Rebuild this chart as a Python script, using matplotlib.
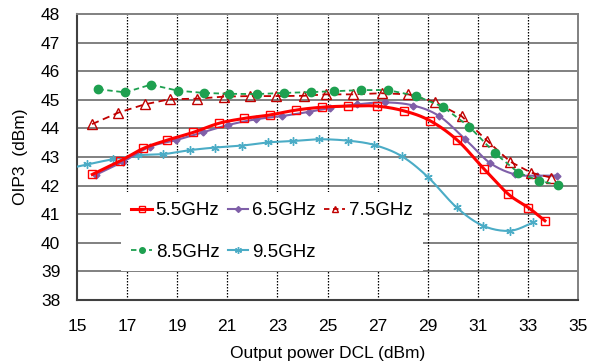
import numpy as np
import matplotlib
matplotlib.use("Agg")
import matplotlib.pyplot as plt
from matplotlib.lines import Line2D

plt.rcParams['font.family'] = ['Liberation Sans', 'DejaVu Sans']

# ---- data ----
x55 = [15.61, 16.72, 17.65, 18.60, 19.64, 20.67, 21.68, 22.70, 23.74, 24.77,
       25.83, 26.96, 28.06, 29.09, 30.18, 31.25, 32.22, 33.02, 33.68]
y55 = [42.39, 42.86, 43.30, 43.59, 43.86, 44.18, 44.35, 44.47, 44.64, 44.74,
       44.78, 44.78, 44.61, 44.27, 43.59, 42.58, 41.70, 41.23, 40.77]

x65 = [15.76, 16.85, 17.91, 18.95, 20.02, 21.04, 22.15, 23.17, 24.27, 25.10,
       26.17, 27.30, 28.43, 29.46, 30.50, 31.49, 32.49, 33.35, 34.15]
y65 = [42.38, 42.84, 43.36, 43.59, 43.86, 44.12, 44.32, 44.43, 44.58, 44.72,
       44.84, 44.91, 44.80, 44.43, 43.62, 42.79, 42.39, 42.35, 42.35]

x75 = [15.60, 16.65, 17.70, 18.70, 19.80, 20.85, 21.90, 22.95, 24.05, 24.95,
       26.03, 27.16, 28.23, 29.29, 30.35, 31.37, 32.29, 33.13, 33.92]
y75 = [44.15, 44.55, 44.84, 45.02, 45.04, 45.11, 45.13, 45.13, 45.14, 45.19,
       45.19, 45.23, 45.19, 44.92, 44.43, 43.57, 42.84, 42.45, 42.28]

x85 = [15.85, 16.92, 17.95, 19.02, 20.07, 21.08, 22.17, 23.26, 24.34, 25.27,
       26.34, 27.40, 28.53, 29.60, 30.66, 31.69, 32.62, 33.45, 34.19]
y85 = [45.37, 45.26, 45.53, 45.32, 45.24, 45.21, 45.20, 45.24, 45.27, 45.30,
       45.34, 45.34, 45.14, 44.76, 44.06, 43.13, 42.45, 42.17, 42.02]

x95 = [14.40, 15.41, 16.42, 17.45, 18.45, 19.51, 20.51, 21.60, 22.64, 23.64,
       24.68, 25.83, 26.87, 27.96, 29.02, 30.15, 31.20, 32.29, 33.22]
y95 = [42.55, 42.74, 42.92, 43.06, 43.10, 43.24, 43.33, 43.40, 43.51, 43.56,
       43.62, 43.57, 43.42, 43.03, 42.29, 41.24, 40.60, 40.42, 40.72]

labels = ["5.5GHz", "6.5GHz", "7.5GHz", "8.5GHz", "9.5GHz"]
xticks = [15, 17, 19, 21, 23, 25, 27, 29, 31, 33, 35]
yticks = [38, 39, 40, 41, 42, 43, 44, 45, 46, 47, 48]


def smooth(x, y, n=20):
    """Excel-like smoothed line: cubic Bezier through points."""
    x = np.asarray(x, float)
    y = np.asarray(y, float)
    P = np.column_stack([x, y])
    out = [P[0]]
    m = len(P)
    for i in range(m - 1):
        p0 = P[i - 1] if i > 0 else P[i]
        p1 = P[i]
        p2 = P[i + 1]
        p3 = P[i + 2] if i + 2 < m else P[i + 1]
        c1 = p1 + (p2 - p0) / 6.0
        c2 = p2 - (p3 - p1) / 6.0
        t = np.linspace(0, 1, n)[1:, None]
        seg = ((1 - t) ** 3) * p1 + 3 * ((1 - t) ** 2) * t * c1 + 3 * (1 - t) * t ** 2 * c2 + t ** 3 * p2
        out.extend(seg)
    out = np.array(out)
    return out[:, 0], out[:, 1]


fig = plt.figure(figsize=(5.89, 3.64), dpi=100)
ax = fig.add_axes([77 / 589, 1 - 300 / 364, 501 / 589, 286 / 364])

c55 = '#FF0000'
c65 = '#7F5FA8'
c75 = '#C00000'
c85 = '#1EA050'
c95 = '#4BACC6'

# 5.5 GHz
sx, sy = smooth(x55, y55)
ax.plot(sx, sy, color=c55, lw=2.2, zorder=5)
ax.plot(x55, y55, ls='none', marker='s', ms=6, mfc='none', mec=c55, mew=1.0, zorder=6)
# 6.5 GHz
sx, sy = smooth(x65, y65)
ax.plot(sx, sy, color=c65, lw=1.5, zorder=4)
ax.plot(x65, y65, ls='none', marker='D', ms=3.5, mfc=c65, mec=c65, zorder=4)
# 7.5 GHz
ax.plot(x75, y75, color=c75, lw=1.3, ls=(0, (4, 2.5)), marker='^', ms=7.5, mfc='none',
        mec=c75, mew=1.0, zorder=4)
# 8.5 GHz
ax.plot(x85, y85, color=c85, lw=1.3, ls=(0, (3, 2)), marker='o', ms=6, mfc=c85, mec=c85, zorder=4)
# 9.5 GHz
sx, sy = smooth(x95, y95)
ax.plot(sx, sy, color=c95, lw=1.5, zorder=3)
ax.plot(x95, y95, ls='none', marker=(6, 2, 0), ms=6, mec=c95, mew=1.0, zorder=3)

ax.set_xlim(15, 35)
ax.set_ylim(38, 48)
ax.set_xticks(xticks)
ax.set_yticks(yticks)
ax.tick_params(length=0, labelsize=12.5)
ax.tick_params(axis='y', pad=12)
ax.tick_params(axis='x', pad=14)

for y in yticks[1:-1]:
    ax.axhline(y, color='#808080', lw=1.4, zorder=1)
for x in xticks[1:-1]:
    ax.axvline(x, color='black', lw=0.9, ls=(0, (1.2, 1.2)), zorder=1)

for s in ['top', 'right']:
    ax.spines[s].set_color('#808080')
    ax.spines[s].set_linewidth(1.4)
for s in ['left', 'bottom']:
    ax.spines[s].set_color('#404040')
    ax.spines[s].set_linewidth(1.5)

ax.set_xlabel('Output power DCL (dBm)', fontsize=12.5, labelpad=8)
ax.set_ylabel('OIP3  (dBm)', fontsize=12.5, labelpad=9)

handles = [
    Line2D([], [], color=c55, lw=2.2, marker='s', ms=4, mfc='none', mec=c55),
    Line2D([], [], color=c85, lw=1.3, ls=(0, (3, 2)), marker='o', ms=4, mfc=c85, mec=c85),
    Line2D([], [], color=c65, lw=1.5, marker='D', ms=3, mfc=c65, mec=c65),
    Line2D([], [], color=c95, lw=1.5, marker=(6, 2, 0), ms=5, mec=c95),
    Line2D([], [], color=c75, lw=1.3, ls=(0, (3, 2)), marker='^', ms=5, mfc='none', mec=c75),
]
hl = [labels[0], labels[3], labels[1], labels[4], labels[2]]
leg = ax.legend(handles, hl, ncol=3, fontsize=13.5, loc='upper left',
                bbox_to_anchor=(121 / 589, 1 - 192 / 364), bbox_transform=fig.transFigure,
                frameon=True, fancybox=False, framealpha=1, edgecolor='none',
                handlelength=1.1, handletextpad=0.2, columnspacing=0.45,
                labelspacing=1.3, borderpad=0.55, borderaxespad=0)
leg.set_zorder(10)

fig.savefig('out.png', dpi=100)
